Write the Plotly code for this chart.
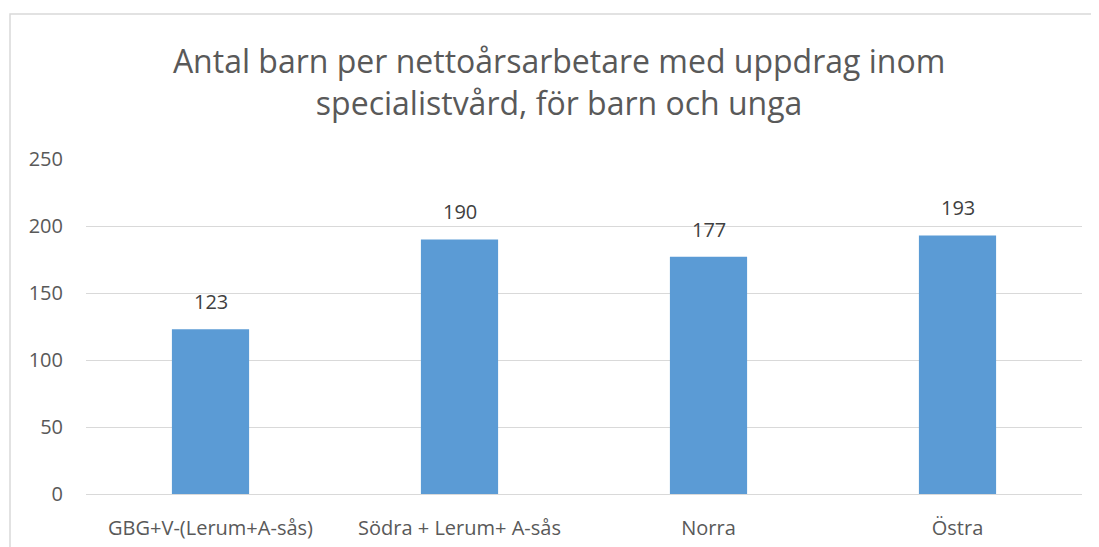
import plotly.graph_objects as go

# ── Data ──────────────────────────────────────────────────────────────────────
categories = ["GBG+V-(Lerum+A-sås)", "Södra + Lerum+ A-sås", "Norra", "Östra"]
values = [123, 190, 177, 193]
y_ticks = [0, 50, 100, 150, 200, 250]

title_text = ("Antal barn per nettoårsarbetare med uppdrag inom<br>"
              "specialistvård, för barn och unga")

BAR_COLOR = "#5b9bd5"
GRID = "#d9d9d9"
FONT = "Open Sans, Noto Sans, sans-serif"

fig = go.Figure()

fig.add_trace(go.Bar(
    x=categories, y=values,
    marker=dict(color=BAR_COLOR, line=dict(width=0)),
    hoverinfo="skip",
))

# value labels above the bars
for cat, val in zip(categories, values):
    fig.add_annotation(
        x=cat, y=val, text=str(val),
        showarrow=False, yanchor="bottom", yshift=12,
        font=dict(size=20, color="#404040", family=FONT),
    )

# page body has an 8px default margin, so the figure is 8px smaller
fig.update_layout(
    width=1091, height=539,
    paper_bgcolor="white",
    plot_bgcolor="white",
    margin=dict(l=78, r=17, t=151, b=53),
    bargap=0.69,
    showlegend=False,
    font=dict(family=FONT, color="#595959"),
    title=dict(
        text=title_text,
        font=dict(size=32, color="#595959", family=FONT),
        x=0.475, xanchor="center",
        xref="paper",
        y=0.879, yanchor="top",
    ),
)

fig.update_xaxes(
    showgrid=False, showline=False, ticks="",
    tickfont=dict(size=20, color="#595959"),
    ticklabelstandoff=20,
    automargin=False,
)
fig.update_yaxes(
    range=[0, 250], tickvals=y_ticks,
    showgrid=True, gridcolor=GRID, gridwidth=1,
    zeroline=True, zerolinecolor=GRID, zerolinewidth=1,
    showline=False, ticks="",
    tickfont=dict(size=20, color="#595959"),
    ticklabelstandoff=22,
    automargin=False,
)

# chart frame (cropped at right and bottom in the reference)
fig.add_shape(
    type="rect", xref="paper", yref="paper",
    x0=-0.0763, x1=1.2, y0=-0.6, y1=1.4328,
    line=dict(color=GRID, width=1.5),
    fillcolor="rgba(0,0,0,0)", layer="below",
)

fig.write_html("out.html")
